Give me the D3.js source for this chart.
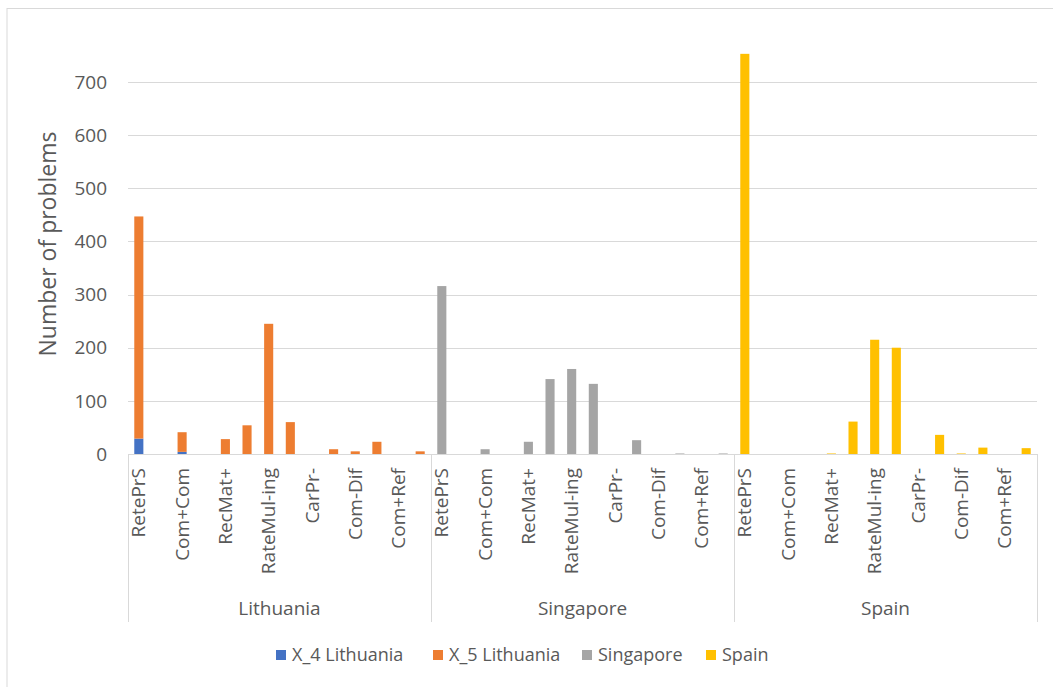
<!DOCTYPE html>
<html><head><meta charset="utf-8">
<script src="https://cdn.jsdelivr.net/npm/d3@7"></script>
<style>body{margin:0;background:#fff;} svg{display:block;} text{font-family:"Open Sans",sans-serif;fill:#595959;}</style>
</head><body>
<script>
const groups = ["Lithuania", "Singapore", "Spain"];
const tickLabels = ["RetePrS", "", "Com+Com", "", "RecMat+", "", "RateMul-ing", "", "CarPr-", "", "Com-Dif", "", "Com+Ref", ""];
const x4Lithuania = [29, 0, 4, 0, 0, 0, 0, 0, 0, 0, 0, 0, 0, 0];
const x5Lithuania = [418, 0, 37, 0, 28, 54, 245, 60, 0, 9, 5, 23, 0, 5];
const singapore = [316, 0, 9, 0, 23, 141, 160, 132, 0, 26, 0, 1, 0, 1];
const spain = [753, 0, 0, 0, 1, 61, 215, 200, 0, 36, 1, 12, 0, 11];
const yTicks = [0, 100, 200, 300, 400, 500, 600, 700];
const seriesNames = ["X_4 Lithuania", "X_5 Lithuania", "Singapore", "Spain"];
const colors = ["#4472C4", "#ED7D31", "#A5A5A5", "#FFC000"];

const W = 1053, H = 687;
const svg = d3.select("body").append("svg").attr("width", W).attr("height", H);

// chart frame
svg.append("line").attr("x1", 7).attr("x2", W).attr("y1", 8.5).attr("y2", 8.5).attr("stroke", "#d9d9d9");
svg.append("line").attr("x1", 7).attr("x2", 7).attr("y1", 8).attr("y2", H).attr("stroke", "#d9d9d9");

const x0 = 128, x1 = 1037, yBase = 454, yTop = 82;
const y = d3.scaleLinear().domain([0, 700]).range([yBase, yTop]);
const gx = d3.scaleBand().domain(groups).range([x0, x1]).padding(0);
const idx = d3.range(tickLabels.length);
const cx = d3.scaleBand().domain(idx).range([0, gx.bandwidth()]).paddingInner(0.58).paddingOuter(0.29);

// gridlines
svg.append("g").selectAll("line").data(yTicks.filter(d => d > 0)).join("line")
  .attr("x1", x0).attr("x2", x1).attr("y1", d => Math.round(y(d)) + 0.5).attr("y2", d => Math.round(y(d)) + 0.5)
  .attr("stroke", "#d9d9d9").attr("stroke-width", 1);

// y labels
svg.append("g").selectAll("text").data(yTicks).join("text")
  .attr("x", 107).attr("y", d => y(d)).attr("dy", "0.35em").attr("text-anchor", "end")
  .style("font-size", "19px").text(d => d);

svg.append("text").attr("transform", `translate(56,244) rotate(-90)`)
  .attr("text-anchor", "middle").style("font-size", "23px").text("Number of problems");

// data rows per group
const groupSeries = {
  "Lithuania": [x4Lithuania, x5Lithuania],
  "Singapore": [singapore],
  "Spain": [spain]
};
const groupColors = {
  "Lithuania": [colors[0], colors[1]],
  "Singapore": [colors[2]],
  "Spain": [colors[3]]
};
const bars = [];
groups.forEach(g => {
  const ss = groupSeries[g];
  idx.forEach(i => {
    let base = 0;
    ss.forEach((arr, si) => {
      const v = arr[i];
      if (v > 0) bars.push({ g, i, y0: base, y1: base + v, color: groupColors[g][si] });
      base += v;
    });
  });
});
svg.append("g").selectAll("rect").data(bars).join("rect")
  .attr("x", d => gx(d.g) + cx(d.i))
  .attr("width", cx.bandwidth())
  .attr("y", d => y(d.y1))
  .attr("height", d => y(d.y0) - y(d.y1))
  .attr("fill", d => d.color);

// category axis
svg.append("line").attr("x1", x0).attr("x2", x1).attr("y1", yBase + 0.5).attr("y2", yBase + 0.5).attr("stroke", "#d9d9d9");
svg.append("g").selectAll("line").data([...groups.map(g => gx(g)), x1]).join("line")
  .attr("x1", d => Math.round(d) + 0.5).attr("x2", d => Math.round(d) + 0.5)
  .attr("y1", yBase).attr("y2", 622).attr("stroke", "#d9d9d9");

const labs = [];
groups.forEach(g => idx.forEach(i => { if (tickLabels[i]) labs.push({ g, i, t: tickLabels[i] }); }));
svg.append("g").selectAll("text").data(labs).join("text")
  .attr("transform", d => `translate(${gx(d.g) + cx(d.i) + cx.bandwidth() / 2},468) rotate(-90)`)
  .attr("text-anchor", "end").attr("dy", "0.35em").style("font-size", "19px").text(d => d.t);

svg.append("g").selectAll("text").data(groups).join("text")
  .attr("x", d => gx(d) + gx.bandwidth() / 2).attr("y", 615).attr("text-anchor", "middle")
  .style("font-size", "19px").text(d => d);

// legend
const legX = [276, 433, 582, 706];
const lg = svg.append("g").selectAll("g").data(seriesNames).join("g")
  .attr("transform", (d, i) => `translate(${legX[i]},650)`);
lg.append("rect").attr("width", 10).attr("height", 10).attr("fill", (d, i) => colors[i]);
lg.append("text").attr("x", 16).attr("y", 5).attr("dy", "0.35em").style("font-size", "18px").text(d => d);
</script>
</body></html>
